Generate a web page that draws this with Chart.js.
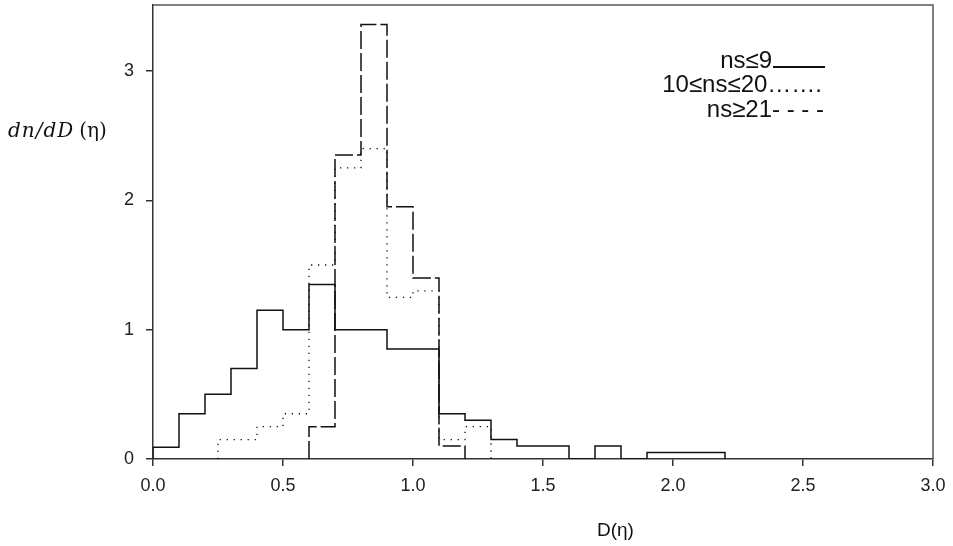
<!DOCTYPE html>
<html>
<head>
<meta charset="utf-8">
<script src="https://cdn.jsdelivr.net/npm/chart.js@4.4.1/dist/chart.umd.min.js"></script>
<style>
  html, body { margin: 0; padding: 0; background: #fff; }
  #wrap { width: 953px; height: 546px; }
</style>
</head>
<body>
<div id="wrap"><canvas id="histChart" width="953" height="546"></canvas></div>
<script>
// histogram bins (left edges) and heights
const smallEdges = [0.0, 0.1, 0.2, 0.3, 0.4, 0.5, 0.6, 0.7, 0.8, 0.9, 1.0, 1.1, 1.2, 1.3, 1.4, 1.5, 1.6, 1.7, 1.8, 1.9, 2.0, 2.1];
const smallValues = [0.09, 0.35, 0.5, 0.7, 1.15, 1.0, 1.35, 1.0, 1.0, 0.85, 0.85, 0.35, 0.3, 0.15, 0.1, 0.1, 0, 0.1, 0, 0.05, 0.05, 0.05];
const smallEnd = 2.2;

const midEdges = [0.25, 0.4, 0.5, 0.6, 0.7, 0.8, 0.9, 1.0, 1.1, 1.2];
const midValues = [0.15, 0.25, 0.35, 1.5, 2.25, 2.4, 1.25, 1.3, 0.15, 0.25];
const midEnd = 1.3;

const largeEdges = [0.6, 0.7, 0.8, 0.9, 1.0, 1.1];
const largeValues = [0.25, 2.35, 3.36, 1.95, 1.4, 0.1];
const largeEnd = 1.2;

const xTicks = [0, 0.5, 1.0, 1.5, 2.0, 2.5, 3.0];
const yTicks = [0, 1, 2, 3];

const legendLabels = ['ns≤9', '10≤ns≤20…….', 'ns≥21- - - -'];

document.addEventListener('DOMContentLoaded', () => {
    const ctx = document.getElementById('histChart').getContext('2d');

    // turn bins into points for a step-before line
    const toSteps = (edges, values, end) => {
        const pts = [{ x: edges[0], y: 0 }];
        edges.forEach((e, i) => pts.push({ x: e, y: values[i] }));
        pts.push({ x: end, y: 0 });
        return pts;
    };

    const tickFont = { family: '"Liberation Sans", Arial, sans-serif', size: 18 };
    const axisColor = '#333';

    const extras = {
        id: 'extras',
        afterDraw(chart) {
            const c = chart.ctx;
            const a = chart.chartArea;
            c.save();
            // frame on top and right
            c.strokeStyle = '#555';
            c.lineWidth = 1.5;
            c.beginPath();
            c.moveTo(a.left, a.top);
            c.lineTo(a.right, a.top);
            c.lineTo(a.right, a.bottom);
            c.stroke();

            c.fillStyle = '#111';
            c.textBaseline = 'alphabetic';
            // legend
            c.font = '24px "Liberation Sans", Arial, sans-serif';
            c.textAlign = 'right';
            c.fillText(legendLabels[0], 772, 68);
            c.strokeStyle = '#111';
            c.lineWidth = 2;
            c.beginPath();
            c.moveTo(773, 67);
            c.lineTo(825, 67);
            c.stroke();
            c.fillText(legendLabels[1], 822, 92);
            c.fillText(legendLabels[2], 824, 117);

            // axis titles
            c.textAlign = 'left';
            c.font = '19px "Liberation Sans", Arial, sans-serif';
            c.fillText('D(η)', 597, 536);

            c.font = 'italic 20px "DejaVu Serif", serif';
            if ('letterSpacing' in c) c.letterSpacing = '1px';
            c.fillText('dn/dD', 8, 137);
            const w = c.measureText('dn/dD').width;
            if ('letterSpacing' in c) c.letterSpacing = '0px';
            c.font = '20px "DejaVu Serif", serif';
            c.fillText('(η)', Math.max(8 + w + 5, 77), 137);
            c.restore();
        }
    };

    const noPad = s => { s.paddingTop = 0; s.paddingBottom = 0; s.paddingLeft = 0; s.paddingRight = 0; };

    new Chart(ctx, {
        type: 'line',
        data: {
            datasets: [
                {
                    label: legendLabels[0],
                    data: toSteps(smallEdges, smallValues, smallEnd),
                    borderColor: '#111',
                    borderWidth: 1.5,
                    stepped: 'before',
                    pointRadius: 0,
                    fill: false
                },
                {
                    label: legendLabels[1],
                    data: toSteps(midEdges, midValues, midEnd),
                    borderColor: '#111',
                    borderWidth: 1.3,
                    borderDash: [1.3, 5.7],
                    stepped: 'before',
                    pointRadius: 0,
                    fill: false
                },
                {
                    label: legendLabels[2],
                    data: toSteps(largeEdges, largeValues, largeEnd),
                    borderColor: '#111',
                    borderWidth: 1.5,
                    borderDash: [18, 4],
                    stepped: 'before',
                    pointRadius: 0,
                    fill: false
                }
            ]
        },
        options: {
            responsive: false,
            animation: false,
            devicePixelRatio: 1,
            layout: { padding: { top: 5, right: 20, left: 0, bottom: 0 } },
            plugins: {
                legend: { display: false },
                tooltip: { enabled: false }
            },
            scales: {
                x: {
                    type: 'linear',
                    min: 0,
                    max: 3,
                    afterBuildTicks: s => { s.ticks = xTicks.map(v => ({ value: v })); },
                    afterFit: s => { s.height = 87; noPad(s); },
                    ticks: {
                        callback: v => v.toFixed(1),
                        font: tickFont,
                        color: '#222',
                        padding: 9,
                        maxRotation: 0
                    },
                    grid: { drawOnChartArea: false, drawTicks: true, tickLength: 7, color: axisColor, lineWidth: 1.5 },
                    border: { color: axisColor, width: 1.5 }
                },
                y: {
                    min: 0,
                    max: 3.51,
                    afterBuildTicks: s => { s.ticks = yTicks.map(v => ({ value: v })); },
                    afterFit: s => { s.width = 153; noPad(s); },
                    ticks: {
                        font: tickFont,
                        color: '#222',
                        padding: 12
                    },
                    grid: { drawOnChartArea: false, drawTicks: true, tickLength: 7, color: axisColor, lineWidth: 1.5 },
                    border: { color: axisColor, width: 1.5 }
                }
            }
        },
        plugins: [extras]
    });
});
</script>
</body>
</html>
